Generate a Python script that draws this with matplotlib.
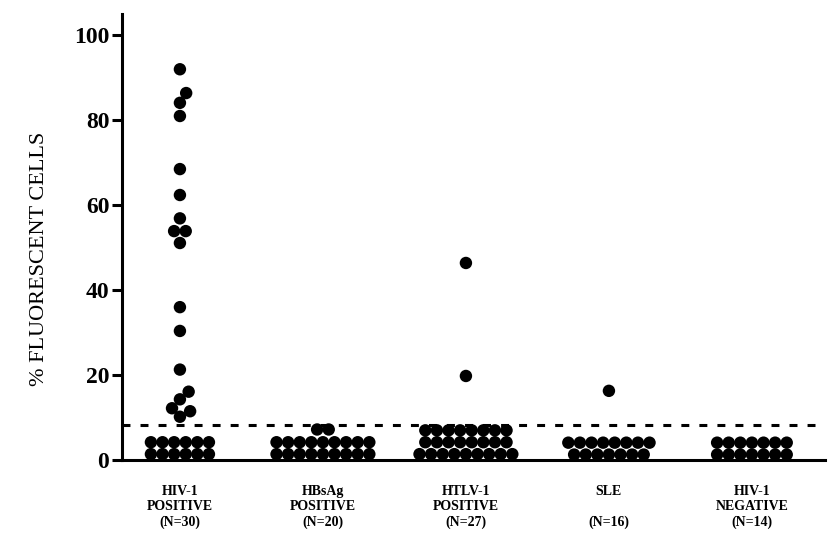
import numpy as np
import matplotlib.pyplot as plt

# Gruppen und Werte
groups = ['HIV-1\nPOSITIVE\n(N=30)', 'HBsAg\nPOSITIVE\n(N=20)',
          'HTLV-1\nPOSITIVE\n(N=27)', 'SLE\n\n(N=16)', 'HIV-1\nNEGATIVE\n(N=14)']

hiv_pos = [1.4, 1.4, 1.4, 1.4, 1.4, 1.4,
           4.2, 4.2, 4.2, 4.2, 4.2, 4.2,
           10.2, 11.5, 12.2, 14.3, 16.1, 21.3, 30.4, 36.0, 51.1, 53.9,
           53.9, 56.9, 62.4, 68.5, 81.0, 84.1, 86.4, 92.0]
hbsag_pos = [1.4, 1.4, 1.4, 1.4, 1.4, 1.4, 1.4, 1.4, 1.4,
             4.2, 4.2, 4.2, 4.2, 4.2, 4.2, 4.2, 4.2, 4.2,
             7.2, 7.2]
htlv_pos = [1.4, 1.4, 1.4, 1.4, 1.4, 1.4, 1.4, 1.4, 1.4,
            4.2, 4.2, 4.2, 4.2, 4.2, 4.2, 4.2, 4.2,
            7.0, 7.0, 7.0, 7.0, 7.0, 7.0, 7.0, 7.0,
            19.8, 46.4]
sle = [1.3, 1.3, 1.3, 1.3, 1.3, 1.3, 1.3,
       4.1, 4.1, 4.1, 4.1, 4.1, 4.1, 4.1, 4.1,
       16.3]
hiv_neg = [1.3, 1.3, 1.3, 1.3, 1.3, 1.3, 1.3,
           4.1, 4.1, 4.1, 4.1, 4.1, 4.1, 4.1]
all_values = [hiv_pos, hbsag_pos, htlv_pos, sle, hiv_neg]
cutoff = 8.3

yticks = [0, 20, 40, 60, 80, 100]


def swarm(ax, x0, vals, d=11.6):
    # Punkte in Pixeln anordnen: gleiche Werte als Reihe, Einzelwerte ausweichen
    vals = np.asarray(vals, dtype=float)
    pts = ax.transData.transform(np.column_stack([np.full(len(vals), x0), vals]))
    cx = pts[0, 0]
    ys = pts[:, 1]
    xs = np.full(len(vals), cx)
    done = []
    for v in np.unique(vals):
        idx = np.where(vals == v)[0]
        if len(idx) > 1:
            xs[idx] = cx + (np.arange(len(idx)) - (len(idx) - 1) / 2) * d
        else:
            i = idx[0]
            cands = [0.0]
            for j in done:
                dy = ys[i] - ys[j]
                if abs(dy) < d:
                    dx = np.sqrt(d ** 2 - dy ** 2)
                    cands += [xs[j] - cx + dx, xs[j] - cx - dx]
            cands.sort(key=abs)
            for c in cands:
                if all(np.hypot(cx + c - xs[j], ys[i] - ys[j]) >= d - 1e-6 for j in done):
                    xs[i] = cx + c
                    break
        done.extend(idx)
    return ax.transData.inverted().transform(np.column_stack([xs, ys]))


fig = plt.figure(figsize=(8.29, 5.40), dpi=100)
ax = fig.add_axes([0.147, 0.148, 0.848, 0.826])
ax.set_xlim(-0.406, 4.51)
ax.set_ylim(0, 105)

for k, vals in enumerate(all_values):
    xy = swarm(ax, k, vals)
    ax.scatter(xy[:, 0], xy[:, 1], s=80, c='black', edgecolors='none',
               zorder=3, clip_on=False)

ax.axhline(cutoff, color='black', lw=2.2, linestyle=(0, (2.6, 3.3)), zorder=2)

for s in ['top', 'right']:
    ax.spines[s].set_visible(False)
for s in ['left', 'bottom']:
    ax.spines[s].set_linewidth(2.2)

ax.set_yticks(yticks)
ax.set_yticklabels([str(t) for t in yticks], fontfamily='Liberation Serif',
                   fontweight='bold', fontsize=17)
ax.tick_params(axis='y', direction='out', length=7, width=2.2, pad=2)

ax.set_xticks(range(len(groups)))
ax.set_xticklabels(groups, fontfamily='Liberation Serif', fontweight='bold',
                   fontsize=10, linespacing=1.2)
ax.tick_params(axis='x', length=0, pad=18)

fig.text(0.048, 0.52, '% FLUORESCENT CELLS', rotation=90, ha='center', va='center',
         fontfamily='Liberation Serif', fontsize=16)

fig.savefig('out.png', dpi=100)
